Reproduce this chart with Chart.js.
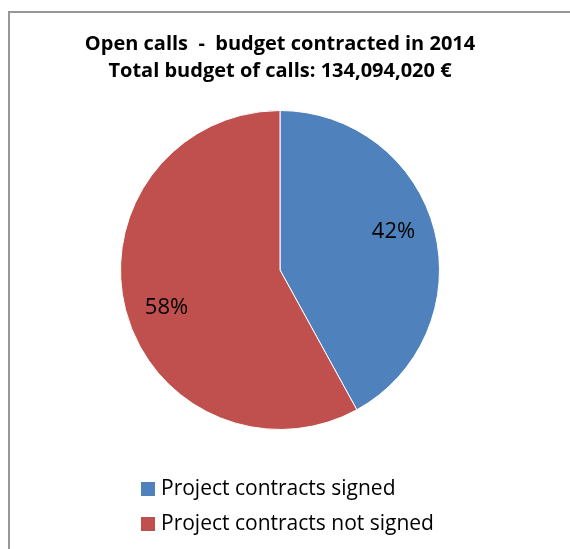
<!DOCTYPE html>
<html>
<head>
<meta charset="utf-8">
<script src="https://cdn.jsdelivr.net/npm/chart.js@4/dist/chart.umd.min.js"></script>
<style>
  body { margin: 0; background: #fff; }
  #wrap { position: relative; width: 570px; height: 549px; overflow: hidden; }
  #frame {
    position: absolute; left: 8px; top: 11px; width: 600px; height: 600px;
    border-top: 2px solid #979797; border-left: 2px solid #979797;
  }
  #budgetChart { position: absolute; left: 0; top: 0; }
</style>
</head>
<body>
<div id="wrap">
  <div id="frame"></div>
  <canvas id="budgetChart" width="570" height="549"></canvas>
</div>
<script>
const titleLines = [
  "Open calls  -  budget contracted in 2014",
  "Total budget of calls: 134,094,020 \u20ac",
];
const labels = ["Project contracts signed", "Project contracts not signed"];
const shares = [42, 58];
const sliceColors = ["#4F81BD", "#C0504D"];

const fontFamily = "'Open Sans', 'DejaVu Sans', sans-serif";

// percentage text inside each slice
const sliceLabels = {
  id: "sliceLabels",
  afterDatasetsDraw(chart) {
    const ctx = chart.ctx;
    const meta = chart.getDatasetMeta(0);
    const total = chart.data.datasets[0].data.reduce((a, b) => a + b, 0);
    ctx.save();
    ctx.font = "22px " + fontFamily;
    ctx.fillStyle = "#000";
    ctx.textAlign = "center";
    ctx.textBaseline = "middle";
    meta.data.forEach((arc, i) => {
      const p = arc.getProps(["x", "y", "startAngle", "endAngle", "outerRadius"], true);
      // nudge a little against the sweep direction
      const mid = (p.startAngle + p.endAngle) / 2 - 0.07;
      const r = p.outerRadius * 0.75;
      const v = chart.data.datasets[0].data[i];
      ctx.fillText(Math.round((v / total) * 100) + "%", p.x + Math.cos(mid) * r, p.y + Math.sin(mid) * r);
    });
    ctx.restore();
  },
};

// stacked legend under the pie, left aligned
const stackedLegend = {
  id: "stackedLegend",
  afterDraw(chart) {
    const ctx = chart.ctx;
    const area = chart.chartArea;
    const colors = chart.data.datasets[0].backgroundColor;
    ctx.save();
    ctx.font = "21px " + fontFamily;
    ctx.textBaseline = "middle";
    chart.data.labels.forEach((label, i) => {
      const y = area.bottom + 59 + i * 35;
      ctx.fillStyle = colors[i];
      ctx.fillRect(141, y - 7, 14, 14);
      ctx.fillStyle = "#000";
      ctx.fillText(label, 161, y);
    });
    ctx.restore();
  },
};

new Chart(document.getElementById("budgetChart"), {
  type: "pie",
  data: {
    labels: labels,
    datasets: [
      {
        data: shares,
        backgroundColor: sliceColors,
        borderColor: "#fff",
        borderWidth: 1,
      },
    ],
  },
  options: {
    responsive: false,
    animation: false,
    layout: {
      padding: { top: 0, right: 10, bottom: 119, left: 0 },
    },
    plugins: {
      legend: { display: false },
      tooltip: { enabled: false },
      title: {
        display: true,
        text: titleLines,
        color: "#000",
        font: { family: fontFamily, size: 20, weight: "bold", lineHeight: 1.35 },
        padding: { top: 31, bottom: 25 },
      },
    },
  },
  plugins: [sliceLabels, stackedLegend],
});
</script>
</body>
</html>
